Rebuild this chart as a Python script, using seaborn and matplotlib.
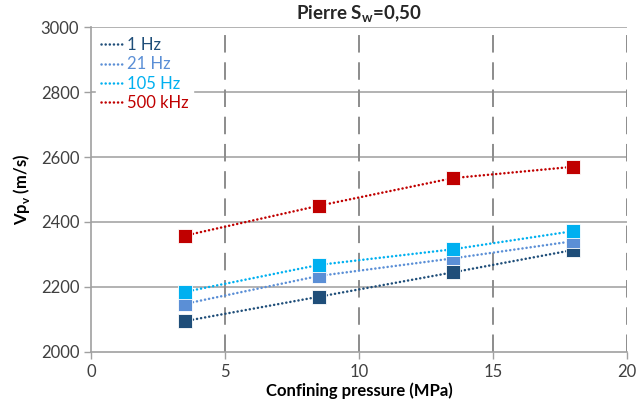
import matplotlib
matplotlib.use("Agg")
import matplotlib.pyplot as plt
from matplotlib.lines import Line2D
import seaborn as sns
import pandas as pd

# Confining pressure steps (MPa) and measured vertical P-wave velocity (m/s)
pressure = [3.5, 8.5, 13.5, 18.0]
freq_labels = ["1 Hz", "21 Hz", "105 Hz", "500 kHz"]
vp_1hz = [2095, 2170, 2245, 2314]
vp_21hz = [2148, 2234, 2288, 2341]
vp_105hz = [2185, 2268, 2316, 2372]
vp_500khz = [2358, 2450, 2535, 2570]
colors = ["#1F4E79", "#5B8FD6", "#00B0F0", "#C00000"]

x_ticks = [0, 5, 10, 15, 20]
y_ticks = [2000, 2200, 2400, 2600, 2800, 3000]

sns.set_theme(style="white")
plt.rcParams["font.family"] = ["Lato", "DejaVu Sans"]

rows = []
for lab, vals in zip(freq_labels, [vp_1hz, vp_21hz, vp_105hz, vp_500khz]):
    for p, v in zip(pressure, vals):
        rows.append({"pressure": p, "vp": v, "freq": lab})
df = pd.DataFrame(rows)

fig = plt.figure(figsize=(6.44, 4.05), dpi=100)
ax = fig.add_axes([0.1413, 0.1309, 0.8323, 0.8024])

dot = (0.05, 1.6)
palette = dict(zip(freq_labels, colors))
sns.lineplot(
    data=df, x="pressure", y="vp", hue="freq", style="freq",
    palette=palette, hue_order=freq_labels, style_order=freq_labels,
    markers={k: "s" for k in freq_labels},
    dashes={k: dot for k in freq_labels},
    linewidth=1.8, markersize=9.5, markeredgecolor="white", markeredgewidth=0.6,
    legend=False, ax=ax, zorder=3,
)
for line in ax.get_lines():
    line.set_dash_capstyle("round")

ax.set_xlim(0, 20)
ax.set_ylim(2000, 3000)
ax.set_xticks(x_ticks)
ax.set_yticks(y_ticks)
ax.tick_params(axis="both", labelsize=12, colors="#404040", length=5, width=1,
               direction="out", left=True, bottom=True, color="#A0A0A0")

# Horizontal solid grid, vertical dashed grid
for y in y_ticks[1:]:
    ax.axhline(y, color="#A6A6A6", linewidth=1.2, zorder=1)
for x in x_ticks[1:]:
    ax.axvline(x, color="#8C8C8C", linewidth=1.4, dashes=(9, 5), zorder=1)

for side in ["top", "right"]:
    ax.spines[side].set_visible(False)
for side in ["left", "bottom"]:
    ax.spines[side].set_color("#A0A0A0")
    ax.spines[side].set_linewidth(1.2)

ax.set_xlabel("Confining pressure (MPa)", fontsize=12, fontweight="bold", color="#000000", labelpad=2)
ax.set_ylabel("Vp$_\\mathregular{v}$ (m/s)", fontsize=12, fontweight="bold", color="#000000", labelpad=6)
ax.set_title("Pierre S$_\\mathregular{w}$=0,50", fontsize=13.5, fontweight="bold", pad=5)

handles = [Line2D([0], [0], color=c, linewidth=1.8, dashes=dot,
                  dash_capstyle="round") for c in colors]
leg = ax.legend(handles, freq_labels, loc="upper left", frameon=True, fontsize=12,
                handlelength=1.4, handletextpad=0.15, labelspacing=0.2,
                borderaxespad=0.3, borderpad=0.3)
leg.get_frame().set_facecolor("white")
leg.get_frame().set_edgecolor("white")
leg.get_frame().set_alpha(1.0)
leg.set_zorder(5)
for txt, c in zip(leg.get_texts(), colors):
    txt.set_color(c)

fig.savefig("out.png", dpi=100, facecolor="white")
